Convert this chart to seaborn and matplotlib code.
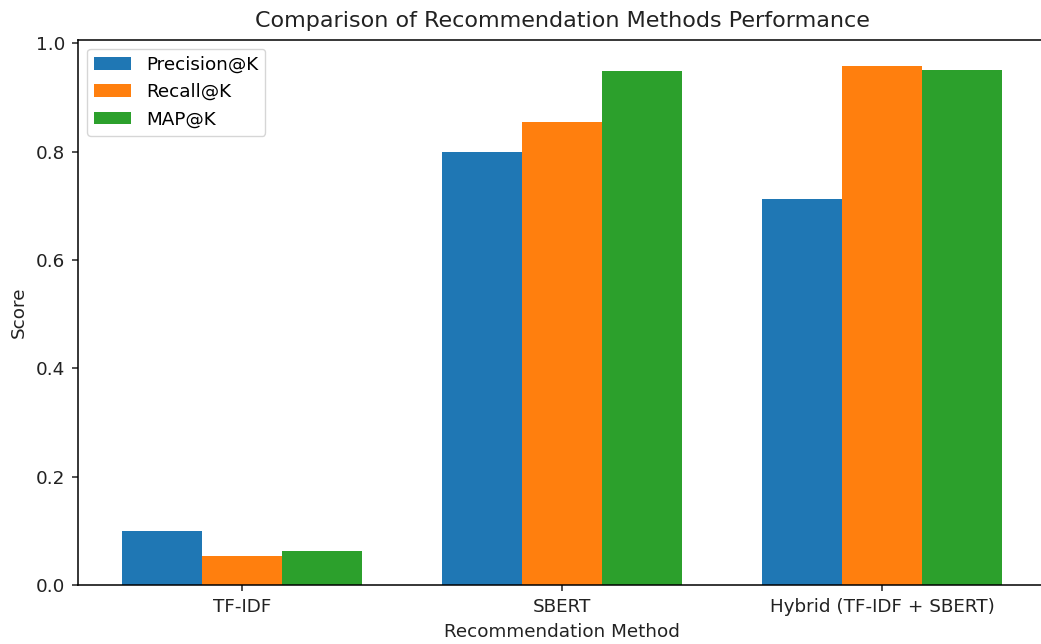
import pandas as pd
import seaborn as sns
import matplotlib.pyplot as plt

# Scores
methods = ["TF-IDF", "SBERT", "Hybrid (TF-IDF + SBERT)"]
metrics = ["Precision@K", "Recall@K", "MAP@K"]
precision = [0.10, 0.80, 0.712]
recall = [0.053, 0.855, 0.959]
map_k = [0.063, 0.948, 0.950]
colors = ["#1f77b4", "#ff7f0e", "#2ca02c"]

# Long-form table for seaborn
rows = []
for name, values in zip(metrics, [precision, recall, map_k]):
    for method, v in zip(methods, values):
        rows.append({"Method": method, "Metric": name, "Score": v})
df = pd.DataFrame(rows)

fs = 13.2
fig = plt.figure(figsize=(10.41, 6.44), dpi=100)
ax = fig.add_axes([0.0749, 0.0916, 0.930, 0.847])

sns.barplot(data=df, x="Method", y="Score", hue="Metric", order=methods,
            hue_order=metrics, palette=colors, saturation=1, width=0.75,
            errorbar=None, ax=ax)

ax.set_xlim(-0.5125, 2.5125)
ax.set_yticks([0.0, 0.2, 0.4, 0.6, 0.8, 1.0])
ax.tick_params(labelsize=fs, length=4.6, width=1.1, pad=4.5, colors="#222222")
for s in ax.spines.values():
    s.set_linewidth(1.1)
ax.set_xlabel("Recommendation Method", fontsize=fs, labelpad=5.5, color="#222222")
ax.set_ylabel("Score", fontsize=fs, labelpad=6, color="#222222")
ax.set_title("Comparison of Recommendation Methods Performance", fontsize=16,
             color="#222222", pad=9)
ax.legend(title=None, loc="upper left", fontsize=fs)

plt.savefig("out.png", dpi=100)
plt.close()
